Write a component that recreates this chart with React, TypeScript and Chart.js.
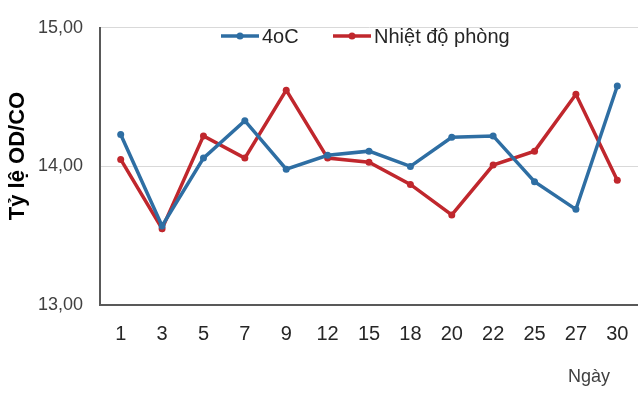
import React, { useEffect, useRef } from "react";
import { Chart, registerables } from "chart.js";

Chart.register(...registerables);

const days = ["1", "3", "5", "7", "9", "12", "15", "18", "20", "22", "25", "27", "30"];
const series4oC = [14.23, 13.57, 14.06, 14.33, 13.98, 14.08, 14.11, 14.0, 14.21, 14.22, 13.89, 13.69, 14.58];
const seriesRoom = [14.05, 13.55, 14.22, 14.06, 14.55, 14.06, 14.03, 13.87, 13.65, 14.01, 14.11, 14.52, 13.9];
const seriesNames = ["4oC", "Nhiệt độ phòng"];
const yTicks = [13, 14, 15];
const yTitle = "Tỷ lệ OD/CO";
const xTitle = "Ngày";

const BLUE = "#2E6EA3";
const RED = "#C0272D";
const SANS = "'Liberation Sans', Arial, sans-serif";

const overlayPlugin = {
  id: "overlay",
  afterDraw(chart: any) {
    const ctx = chart.ctx;
    const items = [
      { x: 221, color: BLUE, name: seriesNames[0] },
      { x: 333, color: RED, name: seriesNames[1] },
    ];
    const y = 36;
    ctx.save();
    items.forEach((it) => {
      ctx.strokeStyle = it.color;
      ctx.lineWidth = 3.5;
      ctx.beginPath();
      ctx.moveTo(it.x, y);
      ctx.lineTo(it.x + 38, y);
      ctx.stroke();
      ctx.fillStyle = it.color;
      ctx.beginPath();
      ctx.arc(it.x + 19, y, 3.5, 0, Math.PI * 2);
      ctx.fill();
      ctx.fillStyle = "#262626";
      ctx.font = "20px " + SANS;
      ctx.textBaseline = "middle";
      ctx.textAlign = "left";
      ctx.fillText(it.name, it.x + 41, y + 1);
    });
    ctx.fillStyle = "#404040";
    ctx.font = "18px " + SANS;
    ctx.textAlign = "center";
    ctx.textBaseline = "alphabetic";
    ctx.fillText(xTitle, 589, 382);

    ctx.translate(18, 156);
    ctx.rotate(-Math.PI / 2);
    ctx.fillStyle = "#000";
    ctx.font = "bold 22px " + SANS;
    ctx.textAlign = "center";
    ctx.textBaseline = "middle";
    ctx.fillText(yTitle, 0, 0);
    ctx.restore();
  },
};

export default function App() {
  const ref = useRef<HTMLCanvasElement>(null);
  useEffect(() => {
    document.body.style.margin = "0";
    const chart = new Chart(ref.current!, {
      type: "line",
      data: {
        labels: days,
        datasets: [
          {
            label: seriesNames[0],
            data: series4oC,
            borderColor: BLUE,
            backgroundColor: BLUE,
            borderWidth: 3.5,
            pointRadius: 3.5,
            pointBorderWidth: 0,
            tension: 0,
          },
          {
            label: seriesNames[1],
            data: seriesRoom,
            borderColor: RED,
            backgroundColor: RED,
            borderWidth: 3.5,
            pointRadius: 3.5,
            pointBorderWidth: 0,
            tension: 0,
          },
        ],
      },
      options: {
        animation: false,
        responsive: false,
        maintainAspectRatio: false,
        layout: { autoPadding: false, padding: { top: 22, left: 0, right: 0, bottom: 0 } },
        plugins: { legend: { display: false }, tooltip: { enabled: false } },
        scales: {
          x: {
            offset: true,
            grid: { display: false, drawTicks: false },
            border: { display: true, color: "#595959", width: 2 },
            ticks: {
              color: "#262626",
              font: { family: SANS, size: 20, lineHeight: 2.3 },
              padding: 6,
              maxRotation: 0,
              autoSkip: false,
            },
            afterFit: (s: any) => {
              s.height = 93;
              s.paddingLeft = 0;
              s.paddingRight = 0;
            },
          },
          y: {
            min: yTicks[0],
            max: yTicks[yTicks.length - 1],
            afterBuildTicks: (s: any) => { s.ticks = yTicks.map((v) => ({ value: v })); },
            grid: { color: "#d9d9d9", lineWidth: 1, drawTicks: false },
            border: { display: true, color: "#595959", width: 2 },
            ticks: {
              color: "#404040",
              font: { family: SANS, size: 18 },
              padding: 17,
              callback: (v: any) => Number(v).toFixed(2).replace(".", ","),
            },
            afterFit: (s: any) => { s.width = 100; },
          },
        },
      },
      plugins: [overlayPlugin],
    });
    return () => chart.destroy();
  }, []);
  return (
    <div style={{ position: "relative", width: 638, height: 398, background: "#fff" }}>
      <canvas ref={ref} width={638} height={398} style={{ display: "block" }} />
    </div>
  );
}
